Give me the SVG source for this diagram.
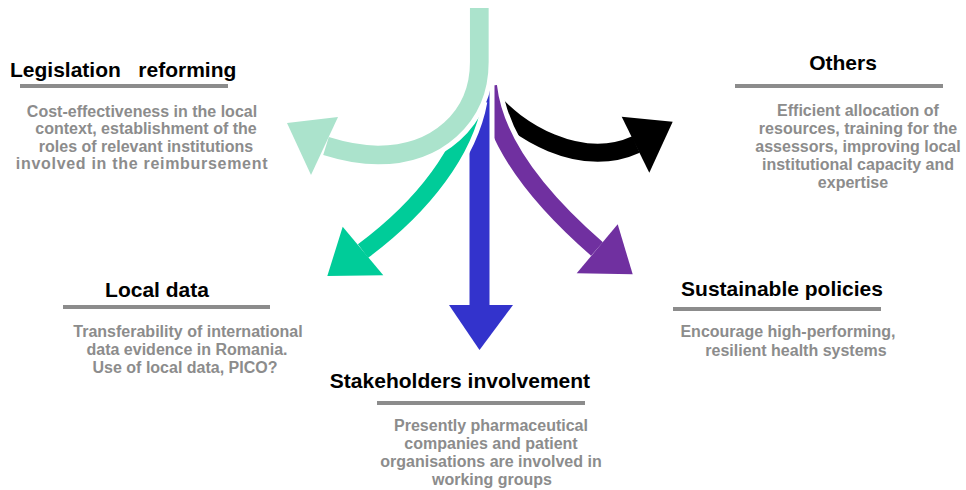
<svg xmlns="http://www.w3.org/2000/svg" width="966" height="490" viewBox="0 0 966 490">
  <style>
    text { font-family: "Liberation Sans", Arial, sans-serif; font-weight: bold; }
    .title { font-size: 21px; fill: #000; }
    .body { font-size: 16px; fill: #8c8c8c; text-anchor: middle; }
    .bar { fill: #8c8c8c; }
    .halo { fill: none; stroke: #fff; stroke-width: 28; stroke-linecap: butt; }
    .shaft { fill: none; stroke-width: 18; stroke-linecap: butt; }
  </style>
  <rect width="966" height="490" fill="#fff"/>

  <!-- connectors: drawn back to front, each shaft with a white halo so it cuts the one beneath -->
  <g id="connectors">
    <g id="arrow-others">
      <path class="halo" d="M490,98 C515,130 580,170 636,144.5"/>
      <path class="shaft" stroke="#000" d="M490,98 C515,130 580,170 636,144.5"/>
      <polygon fill="#000" points="621.7,116.7 672.7,121.7 649.3,172.7"/>
    </g>
    <g id="arrow-sustainable">
      <path class="halo" d="M488,86 C494,140 535,195 597,249"/>
      <path class="shaft" stroke="#7030a0" d="M488,86 C494,140 535,195 597,249"/>
      <polygon fill="#7030a0" points="617.7,224.3 576.7,273.3 632.7,274.3"/>
    </g>
    <g id="arrow-stakeholders">
      <path class="halo" style="stroke-width:30" d="M479.5,55 V306"/>
      <path class="shaft" style="stroke-width:20" stroke="#3333cc" d="M479.5,55 V306"/>
      <polygon fill="#3333cc" points="449,305 513,305 479.5,350"/>
    </g>
    <g id="arrow-local">
      <path class="halo" style="stroke-width:27" d="M474,100 C465,150 425,205 363,251"/>
      <path class="shaft" style="stroke-width:17" stroke="#00cc99" d="M474,100 C465,150 425,205 363,251"/>
      <polygon fill="#00cc99" points="342.7,226.7 327.3,276 383.3,275.3"/>
    </g>
    <g id="arrow-legislation">
      <path class="halo" style="stroke-width:28.7" d="M479.3,8 V62 C479.3,118 436,155 378,155 C358,155 342,151 326,146"/>
      <path class="shaft" style="stroke-width:18.7" stroke="#abe3cc" d="M479.3,8 V62 C479.3,118 436,155 378,155 C358,155 342,151 326,146"/>
      <polygon fill="#abe3cc" points="287,123 338,117 311,175"/>
    </g>
  </g>

  <g id="node-legislation">
    <text class="title" x="10" y="77" xml:space="preserve">Legislation   reforming</text>
    <rect class="bar" x="20" y="84" width="208" height="4"/>
    <text class="body" x="142" y="117">Cost-effectiveness in the local</text>
    <text class="body" x="146" y="134">context, establishment of the</text>
    <text class="body" x="146" y="152">roles of relevant institutions</text>
    <text class="body" x="142" y="169" style="letter-spacing:0.7px">involved in the reimbursement</text>
  </g>

  <g id="node-others">
    <text class="title" x="843" y="70" text-anchor="middle">Others</text>
    <rect class="bar" x="735" y="84" width="208" height="4"/>
    <text class="body" x="858" y="116">Efficient allocation of</text>
    <text class="body" x="858" y="134">resources, training for the</text>
    <text class="body" x="858" y="152">assessors, improving local</text>
    <text class="body" x="858" y="170">institutional capacity and</text>
    <text class="body" x="853" y="188">expertise</text>
  </g>

  <g id="node-local-data">
    <text class="title" x="157" y="297" text-anchor="middle">Local data</text>
    <rect class="bar" x="63" y="305" width="207" height="4"/>
    <text class="body" x="188" y="337">Transferability of international</text>
    <text class="body" x="187" y="355">data evidence in Romania.</text>
    <text class="body" x="185" y="373">Use of local data, PICO?</text>
  </g>

  <g id="node-sustainable">
    <text class="title" x="782" y="296" text-anchor="middle">Sustainable policies</text>
    <rect class="bar" x="673" y="307" width="208" height="4"/>
    <text class="body" x="788" y="337">Encourage high-performing,</text>
    <text class="body" x="796" y="356">resilient health systems</text>
  </g>

  <g id="node-stakeholders">
    <text class="title" x="460" y="388" text-anchor="middle">Stakeholders involvement</text>
    <rect class="bar" x="377" y="401" width="208" height="4"/>
    <text class="body" x="491" y="431">Presently pharmaceutical</text>
    <text class="body" x="491" y="449">companies and patient</text>
    <text class="body" x="491" y="467">organisations are involved in</text>
    <text class="body" x="492" y="485">working groups</text>
  </g>
</svg>
